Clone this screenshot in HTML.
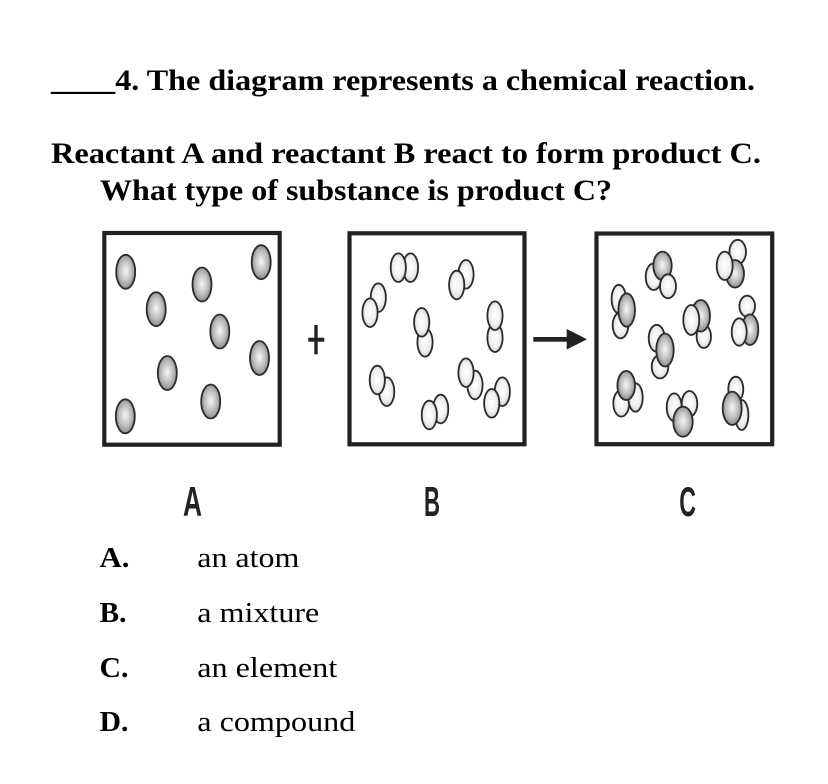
<!DOCTYPE html>
<html>
<head>
<meta charset="utf-8">
<style>
html,body{margin:0;padding:0;background:#fff;}
svg{display:block;}
.t{font-family:"Liberation Serif",serif;fill:#000;}
.lb{font-family:"Liberation Sans",sans-serif;font-weight:bold;fill:#222;}
.g{fill:url(#gg);stroke:#2b2b2b;stroke-width:1.8;}
.w{fill:url(#wg);stroke:#2b2b2b;stroke-width:1.8;}
</style>
</head>
<body>
<svg width="828" height="784" viewBox="0 0 828 784" xmlns="http://www.w3.org/2000/svg">
<defs>
<radialGradient id="gg" cx="50%" cy="48%" r="55%">
<stop offset="0" stop-color="#f6f6f6"/>
<stop offset="0.55" stop-color="#c0c0c0"/>
<stop offset="1" stop-color="#858585"/>
</radialGradient>
<radialGradient id="wg" cx="50%" cy="48%" r="55%">
<stop offset="0" stop-color="#ffffff"/>
<stop offset="0.6" stop-color="#f0f0f0"/>
<stop offset="1" stop-color="#cfcfcf"/>
</radialGradient>
</defs>

<!-- Question text -->
<text class="t" x="51" y="90" font-size="30" font-weight="bold" textLength="704" lengthAdjust="spacingAndGlyphs">____4. The diagram represents a chemical reaction.</text>
<text class="t" x="51" y="163" font-size="30" font-weight="bold" textLength="710" lengthAdjust="spacingAndGlyphs">Reactant A and reactant B react to form product C.</text>
<text class="t" x="100" y="200" font-size="30" font-weight="bold" textLength="512" lengthAdjust="spacingAndGlyphs">What type of substance is product C?</text>

<!-- Boxes -->
<rect x="104.3" y="233" width="175.4" height="211.7" fill="none" stroke="#222" stroke-width="4.2"/>
<rect x="349.5" y="233.3" width="175" height="211" fill="none" stroke="#222" stroke-width="4.2"/>
<rect x="596.5" y="233.5" width="175.7" height="210.7" fill="none" stroke="#222" stroke-width="4.2"/>

<!-- Plus -->
<rect x="308.3" y="337.7" width="16" height="4" fill="#222"/>
<rect x="314.3" y="325" width="3.4" height="29.3" fill="#222"/>

<!-- Arrow -->
<rect x="533.3" y="337" width="36" height="4.7" fill="#222"/>
<polygon points="566.7,329 587,339.3 566.7,349.5" fill="#222"/>

<!-- Box A atoms -->
<ellipse class="g" cx="125.7" cy="271.8" rx="9.5" ry="17"/>
<ellipse class="g" cx="156.2" cy="309.2" rx="9.5" ry="17"/>
<ellipse class="g" cx="202" cy="284.5" rx="9.5" ry="17"/>
<ellipse class="g" cx="261.2" cy="262.2" rx="9.5" ry="17"/>
<ellipse class="g" cx="219.8" cy="331.5" rx="9.5" ry="17"/>
<ellipse class="g" cx="259.5" cy="358" rx="9.5" ry="17"/>
<ellipse class="g" cx="167.3" cy="373" rx="9.5" ry="17"/>
<ellipse class="g" cx="210.7" cy="401.5" rx="9.5" ry="17"/>
<ellipse class="g" cx="125.3" cy="416.3" rx="9.5" ry="17"/>

<!-- Box B molecules (back first, front second) -->
<ellipse class="w" cx="410.5" cy="267.7" rx="7.6" ry="14.3"/>
<ellipse class="w" cx="398.3" cy="267.7" rx="7.6" ry="14.3"/>

<ellipse class="w" cx="466" cy="274.3" rx="7.6" ry="14.3"/>
<ellipse class="w" cx="456.7" cy="285" rx="7.6" ry="14.3"/>

<ellipse class="w" cx="378.3" cy="297.7" rx="7.6" ry="14.3"/>
<ellipse class="w" cx="370" cy="312.7" rx="7.6" ry="14.3"/>

<ellipse class="w" cx="425" cy="342.3" rx="7.6" ry="14.3"/>
<ellipse class="w" cx="421.7" cy="322.3" rx="7.6" ry="14.3"/>

<ellipse class="w" cx="495" cy="337.7" rx="7.6" ry="14.3"/>
<ellipse class="w" cx="495" cy="315.7" rx="7.6" ry="14.3"/>

<ellipse class="w" cx="386.7" cy="391.7" rx="7.6" ry="14.3"/>
<ellipse class="w" cx="377.3" cy="380" rx="7.6" ry="14.3"/>

<ellipse class="w" cx="440.7" cy="409" rx="7.6" ry="14.3"/>
<ellipse class="w" cx="429.3" cy="415" rx="7.6" ry="14.3"/>

<ellipse class="w" cx="475" cy="385" rx="7.6" ry="14.3"/>
<ellipse class="w" cx="466" cy="372.7" rx="7.6" ry="14.3"/>

<ellipse class="w" cx="502.3" cy="391.7" rx="7.6" ry="14.3"/>
<ellipse class="w" cx="491.7" cy="403.3" rx="7.6" ry="14.3"/>

<!-- Box C molecules -->
<!-- C1 -->
<ellipse class="w" cx="653.7" cy="276.7" rx="8" ry="13.3"/>
<ellipse class="g" cx="662.5" cy="265.8" rx="9.2" ry="14.2"/>
<ellipse class="w" cx="668" cy="286.3" rx="8" ry="12"/>
<!-- C2 -->
<ellipse class="w" cx="737.7" cy="252" rx="8.3" ry="12.2"/>
<ellipse class="g" cx="735" cy="273.8" rx="9" ry="13.8"/>
<ellipse class="w" cx="724.7" cy="265.8" rx="8" ry="14.2"/>
<!-- C3 -->
<ellipse class="w" cx="618.8" cy="299" rx="7.2" ry="14.2"/>
<ellipse class="w" cx="620.5" cy="325.3" rx="7.8" ry="13"/>
<ellipse class="g" cx="626.7" cy="310" rx="8.3" ry="16.7"/>
<!-- C4 -->
<ellipse class="w" cx="703.8" cy="336.5" rx="7.2" ry="11.5"/>
<ellipse class="g" cx="700.8" cy="315.8" rx="9.2" ry="15.8"/>
<ellipse class="w" cx="691.3" cy="320" rx="8" ry="15"/>
<!-- C5 -->
<ellipse class="w" cx="747.2" cy="306.2" rx="7.8" ry="10.5"/>
<ellipse class="g" cx="750" cy="329.7" rx="8.3" ry="15.3"/>
<ellipse class="w" cx="739.2" cy="332" rx="7.5" ry="13.7"/>
<!-- C6 -->
<ellipse class="w" cx="656.7" cy="338.3" rx="8" ry="13.5"/>
<ellipse class="w" cx="660" cy="366.7" rx="8.3" ry="11.7"/>
<ellipse class="g" cx="665" cy="350" rx="8.7" ry="16.5"/>
<!-- C7 -->
<ellipse class="w" cx="621.3" cy="403.3" rx="8" ry="13.3"/>
<ellipse class="w" cx="635.5" cy="397.5" rx="7.2" ry="14.2"/>
<ellipse class="g" cx="626.2" cy="385.5" rx="8.8" ry="14.5"/>
<!-- C8 -->
<ellipse class="w" cx="674.2" cy="407.2" rx="7.5" ry="13.8"/>
<ellipse class="w" cx="689.5" cy="403.8" rx="7.8" ry="12.8"/>
<ellipse class="g" cx="683" cy="421.7" rx="9.7" ry="15"/>
<!-- C9 -->
<ellipse class="w" cx="735.8" cy="389.2" rx="7.5" ry="12.5"/>
<ellipse class="w" cx="741.7" cy="415" rx="6.7" ry="15"/>
<ellipse class="g" cx="732.2" cy="408.3" rx="9.5" ry="16.7"/>

<!-- Labels -->
<text class="lb" x="183" y="516" font-size="42" textLength="19" lengthAdjust="spacingAndGlyphs">A</text>
<text class="lb" x="424" y="516" font-size="42" textLength="16" lengthAdjust="spacingAndGlyphs">B</text>
<text class="lb" x="679.3" y="516" font-size="42" textLength="16.7" lengthAdjust="spacingAndGlyphs">C</text>

<!-- Answer choices -->
<text class="t" x="99.5" y="567" font-size="28" font-weight="bold" textLength="30" lengthAdjust="spacingAndGlyphs">A.</text>
<text class="t" x="197.3" y="567" font-size="29" textLength="102" lengthAdjust="spacingAndGlyphs">an atom</text>

<text class="t" x="99.5" y="622" font-size="28" font-weight="bold" textLength="27" lengthAdjust="spacingAndGlyphs">B.</text>
<text class="t" x="197.3" y="622" font-size="29" textLength="122" lengthAdjust="spacingAndGlyphs">a mixture</text>

<text class="t" x="99.5" y="677" font-size="28" font-weight="bold" textLength="29" lengthAdjust="spacingAndGlyphs">C.</text>
<text class="t" x="197.3" y="677" font-size="29" textLength="140" lengthAdjust="spacingAndGlyphs">an element</text>

<text class="t" x="99.5" y="731" font-size="28" font-weight="bold" textLength="29" lengthAdjust="spacingAndGlyphs">D.</text>
<text class="t" x="197.3" y="731" font-size="29" textLength="158" lengthAdjust="spacingAndGlyphs">a compound</text>
</svg>
</body>
</html>
